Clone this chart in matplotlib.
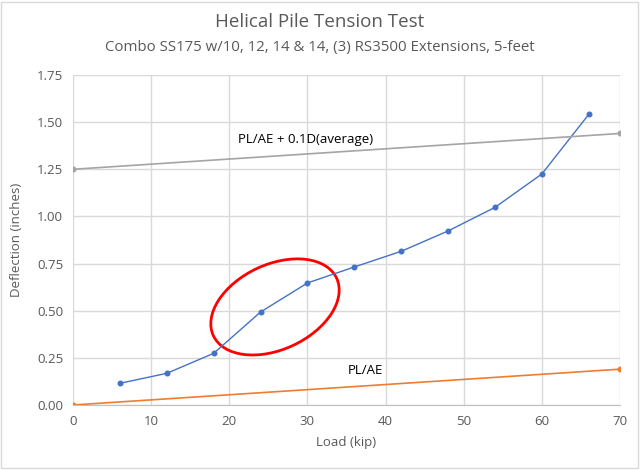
import matplotlib
matplotlib.use("Agg")
import matplotlib.pyplot as plt
from matplotlib.patches import Ellipse, Rectangle
from matplotlib.transforms import ScaledTranslation

load = [6, 12, 18, 24, 30, 36, 42, 48, 54, 60, 66]
deflection = [0.115, 0.168, 0.274, 0.493, 0.647, 0.732, 0.815, 0.923, 1.048, 1.225, 1.541]
elastic_x = [0, 70]
elastic_y = [0.0, 0.19]
limit_x = [0, 70]
limit_y = [1.25, 1.44]
xticks = [0, 10, 20, 30, 40, 50, 60, 70]
yticks = [0.0, 0.25, 0.5, 0.75, 1.0, 1.25, 1.5, 1.75]

plt.rcParams['font.family'] = ['Open Sans', 'DejaVu Sans']
txt = '#595959'

fig = plt.figure(figsize=(6.4, 4.7), dpi=100)
fig.patches.append(Rectangle((0.002, 0.004), 0.995, 0.992, transform=fig.transFigure,
                             fill=False, edgecolor='#d9d9d9', linewidth=1))
ax = fig.add_axes([73/640, 1-405/470, (620-73)/640, (405-75)/470])

ax.plot(load, deflection, color='#4472C4', linewidth=1, marker='o', markersize=3.3)
ax.plot(elastic_x, elastic_y, color='#ED7D31', linewidth=1.2, marker='o', markersize=3.3)
ax.plot(limit_x, limit_y, color='#A5A5A5', linewidth=1.2, marker='o', markersize=3.3)

ax.set_xlim(0, 70)
ax.set_ylim(0, 1.75)
ax.set_xticks(xticks)
ax.set_yticks(yticks)
ax.set_yticklabels([f"{v:.2f}" for v in yticks])
ax.grid(True, color='#d9d9d9', linewidth=1)
ax.set_axisbelow(True)
for s in ['top', 'right', 'left']:
    ax.spines[s].set_visible(False)
ax.spines['bottom'].set_color('#bfbfbf')
ax.tick_params(length=0, colors=txt, labelsize=9.5, pad=7)
ax.set_xlabel('Load (kip)', color=txt, fontsize=9.5)
ax.xaxis.set_label_coords(0.5, -0.095)
ax.set_ylabel('Deflection (inches)', color=txt, fontsize=9.5)
ax.yaxis.set_label_coords(-0.092, 0.5)

ax.text(29.7, 1.41, 'PL/AE + 0.1D(average)', fontsize=9.5, color='black', ha='center', va='center')
ax.text(37.45, 0.182, 'PL/AE', fontsize=9.5, color='black', ha='center', va='center')

ell = Ellipse((0, 0), 1.36, 0.85, angle=25, fill=False, edgecolor='#FF0000', linewidth=2,
              transform=fig.dpi_scale_trans + ScaledTranslation(25.85, 0.52, ax.transData))
ax.add_patch(ell)

fig.text(0.5, 1-22/470, 'Helical Pile Tension Test', ha='center', va='center', fontsize=13.5, color=txt)
fig.text(0.5, 1-47/470, 'Combo SS175 w/10, 12, 14 & 14, (3) RS3500 Extensions, 5-feet', ha='center', va='center', fontsize=10.8, color=txt)

fig.savefig('out.png', dpi=100)
